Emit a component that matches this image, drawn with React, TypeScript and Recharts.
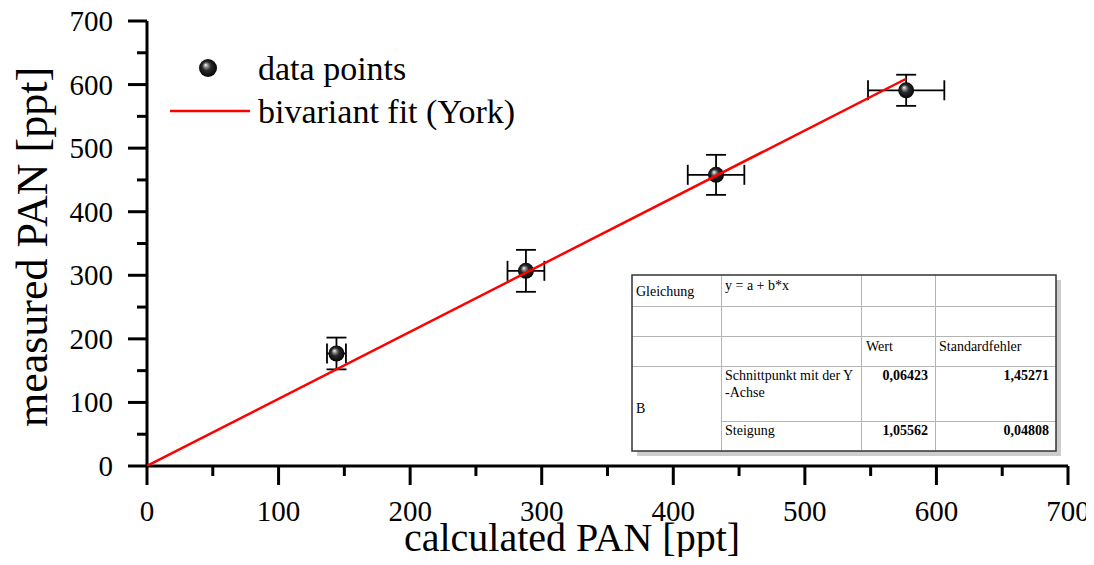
import React from "react";
import { ComposedChart, ErrorBar, Legend, Line, Scatter, XAxis, YAxis } from "recharts";

// measured vs calculated PAN, both in ppt
const calcPan = [144, 288, 432.5, 577];
const measPan = [177, 307, 458, 591];
const calcErr = [7.2, 14, 21.5, 29];
const measErr = [25, 33, 31.5, 24.5];

// York regression result
const fitIntercept = 0.06423;
const fitSlope = 1.05562;
const fitInterceptErr = 1.45271;
const fitSlopeErr = 0.04808;
const fitRange = [0, 577];

const majorTicks = [0, 100, 200, 300, 400, 500, 600, 700];
const minorTicks = [50, 150, 250, 350, 450, 550, 650];
const allTicks = [...majorTicks, ...minorTicks].sort((a, b) => a - b);

const points = calcPan.map((x, i) => ({ x, y: measPan[i], ex: calcErr[i], ey: measErr[i] }));
const fitLine = fitRange.map((x) => ({ x, y: fitIntercept + fitSlope * x }));

const serif = "'Liberation Serif', 'Times New Roman', serif";
const AXIS = { stroke: "#000", strokeWidth: 3 };

type TickProps = { x?: number; y?: number; payload?: { value: number } };
const tickLen = (v: number) => (majorTicks.includes(v) ? 19 : 10);

function BottomTick({ x = 0, y = 0, payload }: TickProps) {
  const v = payload?.value ?? 0;
  return (
    <g>
      <line x1={x} x2={x} y1={y} y2={y + tickLen(v)} stroke="#000" strokeWidth={3} />
      {majorTicks.includes(v) && (
        <text x={x} y={y + 55} textAnchor="middle" fontFamily={serif} fontSize={29} fill="#000">
          {v}
        </text>
      )}
    </g>
  );
}

function LeftTick({ x = 0, y = 0, payload }: TickProps) {
  const v = payload?.value ?? 0;
  return (
    <g>
      <line x1={x} x2={x - tickLen(v)} y1={y} y2={y} stroke="#000" strokeWidth={3} />
      {majorTicks.includes(v) && (
        <text x={x - 34} y={y + 10} textAnchor="end" fontFamily={serif} fontSize={29} fill="#000">
          {v}
        </text>
      )}
    </g>
  );
}

function TopTick({ x = 0, y = 0, payload }: TickProps) {
  const v = payload?.value ?? 0;
  return <line x1={x} x2={x} y1={y} y2={y + tickLen(v)} stroke="#000" strokeWidth={3} />;
}

function RightTick({ x = 0, y = 0, payload }: TickProps) {
  const v = payload?.value ?? 0;
  return <line x1={x} x2={x - tickLen(v)} y1={y} y2={y} stroke="#000" strokeWidth={3} />;
}

function Sphere({ cx, cy, r, id }: { cx: number; cy: number; r: number; id: string }) {
  return (
    <g>
      <defs>
        <radialGradient id={id} cx="50%" cy="50%" r="55%" fx="36%" fy="32%">
          <stop offset="0%" stopColor="#ffffff" />
          <stop offset="18%" stopColor="#9a9a9a" />
          <stop offset="45%" stopColor="#2a2a2a" />
          <stop offset="100%" stopColor="#000000" />
        </radialGradient>
      </defs>
      <circle cx={cx} cy={cy} r={r} fill={`url(#${id})`} />
    </g>
  );
}

function LegendContent({ payload }: any) {
  // markers first, fit line below
  const items = [...(payload ?? [])].sort(
    (a: any, b: any) => Number(a.type === "line") - Number(b.type === "line")
  );
  return (
    <svg width={400} height={90} style={{ display: "block" }}>
      {items.map((entry: any, i: number) => {
        const rowY = 23 + i * 43;
        return (
          <g key={i}>
            {entry.type === "line" ? (
              <line x1={10} x2={90} y1={rowY} y2={rowY} stroke="#ff0000" strokeWidth={2.5} />
            ) : (
              <Sphere cx={48} cy={rowY} r={9} id="legend-sphere" />
            )}
            <text x={98} y={rowY + 12} fontFamily={serif} fontSize={34} fill="#000">
              {entry.value}
            </text>
          </g>
        );
      })}
    </svg>
  );
}

const fmt = (v: number) => v.toFixed(5).replace(".", ",");

function FitTable() {
  const cols = [632, 721, 861, 935, 1056];
  const rows = [275, 306, 336, 366, 421, 451];
  const w = cols[4] - cols[0];
  const h = rows[5] - rows[0];
  const txt = { fontFamily: serif, fontSize: 14, fill: "#000" };
  const bold = { ...txt, fontWeight: 700 };
  const grid = { stroke: "#b4b4b4", strokeWidth: 1 };
  return (
    <g>
      <rect x={cols[0] + 5} y={rows[0] + 5} width={w} height={h} fill="#cdcdcd" />
      <rect x={cols[0]} y={rows[0]} width={w} height={h} fill="#fff" />
      {rows.slice(1, 4).map((y) => (
        <line key={y} x1={cols[0]} x2={cols[4]} y1={y + 0.5} y2={y + 0.5} {...grid} />
      ))}
      <line x1={cols[1]} x2={cols[4]} y1={rows[4] + 0.5} y2={rows[4] + 0.5} {...grid} />
      {cols.slice(1, 4).map((x) => (
        <line key={x} x1={x + 0.5} x2={x + 0.5} y1={rows[0]} y2={rows[5]} {...grid} />
      ))}
      <rect x={cols[0]} y={rows[0]} width={w} height={h} fill="none" stroke="#333" strokeWidth={1.5} />

      <text x={636} y={296} {...txt}>Gleichung</text>
      <text x={725} y={290} {...txt}>y = a + b*x</text>
      <text x={866} y={351} {...txt}>Wert</text>
      <text x={939} y={351} {...txt}>Standardfehler</text>
      <text x={725} y={380} {...txt}>Schnittpunkt mit der Y</text>
      <text x={725} y={397} {...txt}>-Achse</text>
      <text x={636} y={413} {...txt}>B</text>
      <text x={725} y={435} {...txt}>Steigung</text>
      <text x={928} y={380} textAnchor="end" {...bold}>{fmt(fitIntercept)}</text>
      <text x={1049} y={380} textAnchor="end" {...bold}>{fmt(fitInterceptErr)}</text>
      <text x={928} y={435} textAnchor="end" {...bold}>{fmt(fitSlope)}</text>
      <text x={1049} y={435} textAnchor="end" {...bold}>{fmt(fitSlopeErr)}</text>
    </g>
  );
}

export default function App() {
  return (
    <div style={{ position: "relative", width: 1094, height: 565, margin: -8, background: "#fff" }}>
      <ComposedChart width={1094} height={565} margin={{ top: 21, right: 26, bottom: 0, left: 0 }}>
        <XAxis
          dataKey="x"
          type="number"
          domain={[0, 700]}
          ticks={allTicks}
          interval={0}
          height={99}
          tickSize={0}
          tickMargin={0}
          tickLine={false}
          axisLine={AXIS}
          tick={<BottomTick />}
        />
        <XAxis
          xAxisId="top"
          orientation="top"
          mirror
          type="number"
          domain={[0, 700]}
          ticks={allTicks}
          interval={0}
          height={0}
          tickSize={0}
          tickMargin={0}
          tickLine={false}
          axisLine={AXIS}
          tick={<TopTick />}
        />
        <YAxis
          type="number"
          domain={[0, 700]}
          ticks={allTicks}
          interval={0}
          width={147}
          tickSize={0}
          tickMargin={0}
          tickLine={false}
          axisLine={AXIS}
          tick={<LeftTick />}
        />
        <YAxis
          yAxisId="right"
          orientation="right"
          mirror
          type="number"
          domain={[0, 700]}
          ticks={allTicks}
          interval={0}
          width={0}
          tickSize={0}
          tickMargin={0}
          tickLine={false}
          axisLine={AXIS}
          tick={<RightTick />}
        />
        <Legend
          layout="vertical"
          align="center"
          verticalAlign="middle"
          wrapperStyle={{ left: 160, top: 45, width: 400 }}
          content={<LegendContent />}
        />
        <Scatter
          name="data points"
          data={points}
          dataKey="y"
          isAnimationActive={false}
          shape={(p: any) => <Sphere cx={p.cx} cy={p.cy} r={8} id={`pt-sphere-${p.index ?? 0}`} />}
        >
          <ErrorBar dataKey="ey" direction="y" width={10} stroke="#000" strokeWidth={1.8} isAnimationActive={false} />
          <ErrorBar dataKey="ex" direction="x" width={10} stroke="#000" strokeWidth={1.8} isAnimationActive={false} />
        </Scatter>
        <Line
          name="bivariant fit (York)"
          data={fitLine}
          dataKey="y"
          stroke="#ff0000"
          strokeWidth={2.5}
          dot={false}
          legendType="line"
          isAnimationActive={false}
          zIndex={700}
        />
      </ComposedChart>
      <svg
        width={1094}
        height={565}
        style={{ position: "absolute", left: 0, top: 0, pointerEvents: "none" }}
      >
        <text x={572} y={551} textAnchor="middle" fontFamily={serif} fontSize={40} fill="#000">
          calculated PAN [ppt]
        </text>
        <text
          transform="translate(47,247) rotate(-90)"
          textAnchor="middle"
          fontFamily={serif}
          fontSize={44}
          fill="#000"
        >
          measured PAN [ppt]
        </text>
        <FitTable />
      </svg>
    </div>
  );
}
